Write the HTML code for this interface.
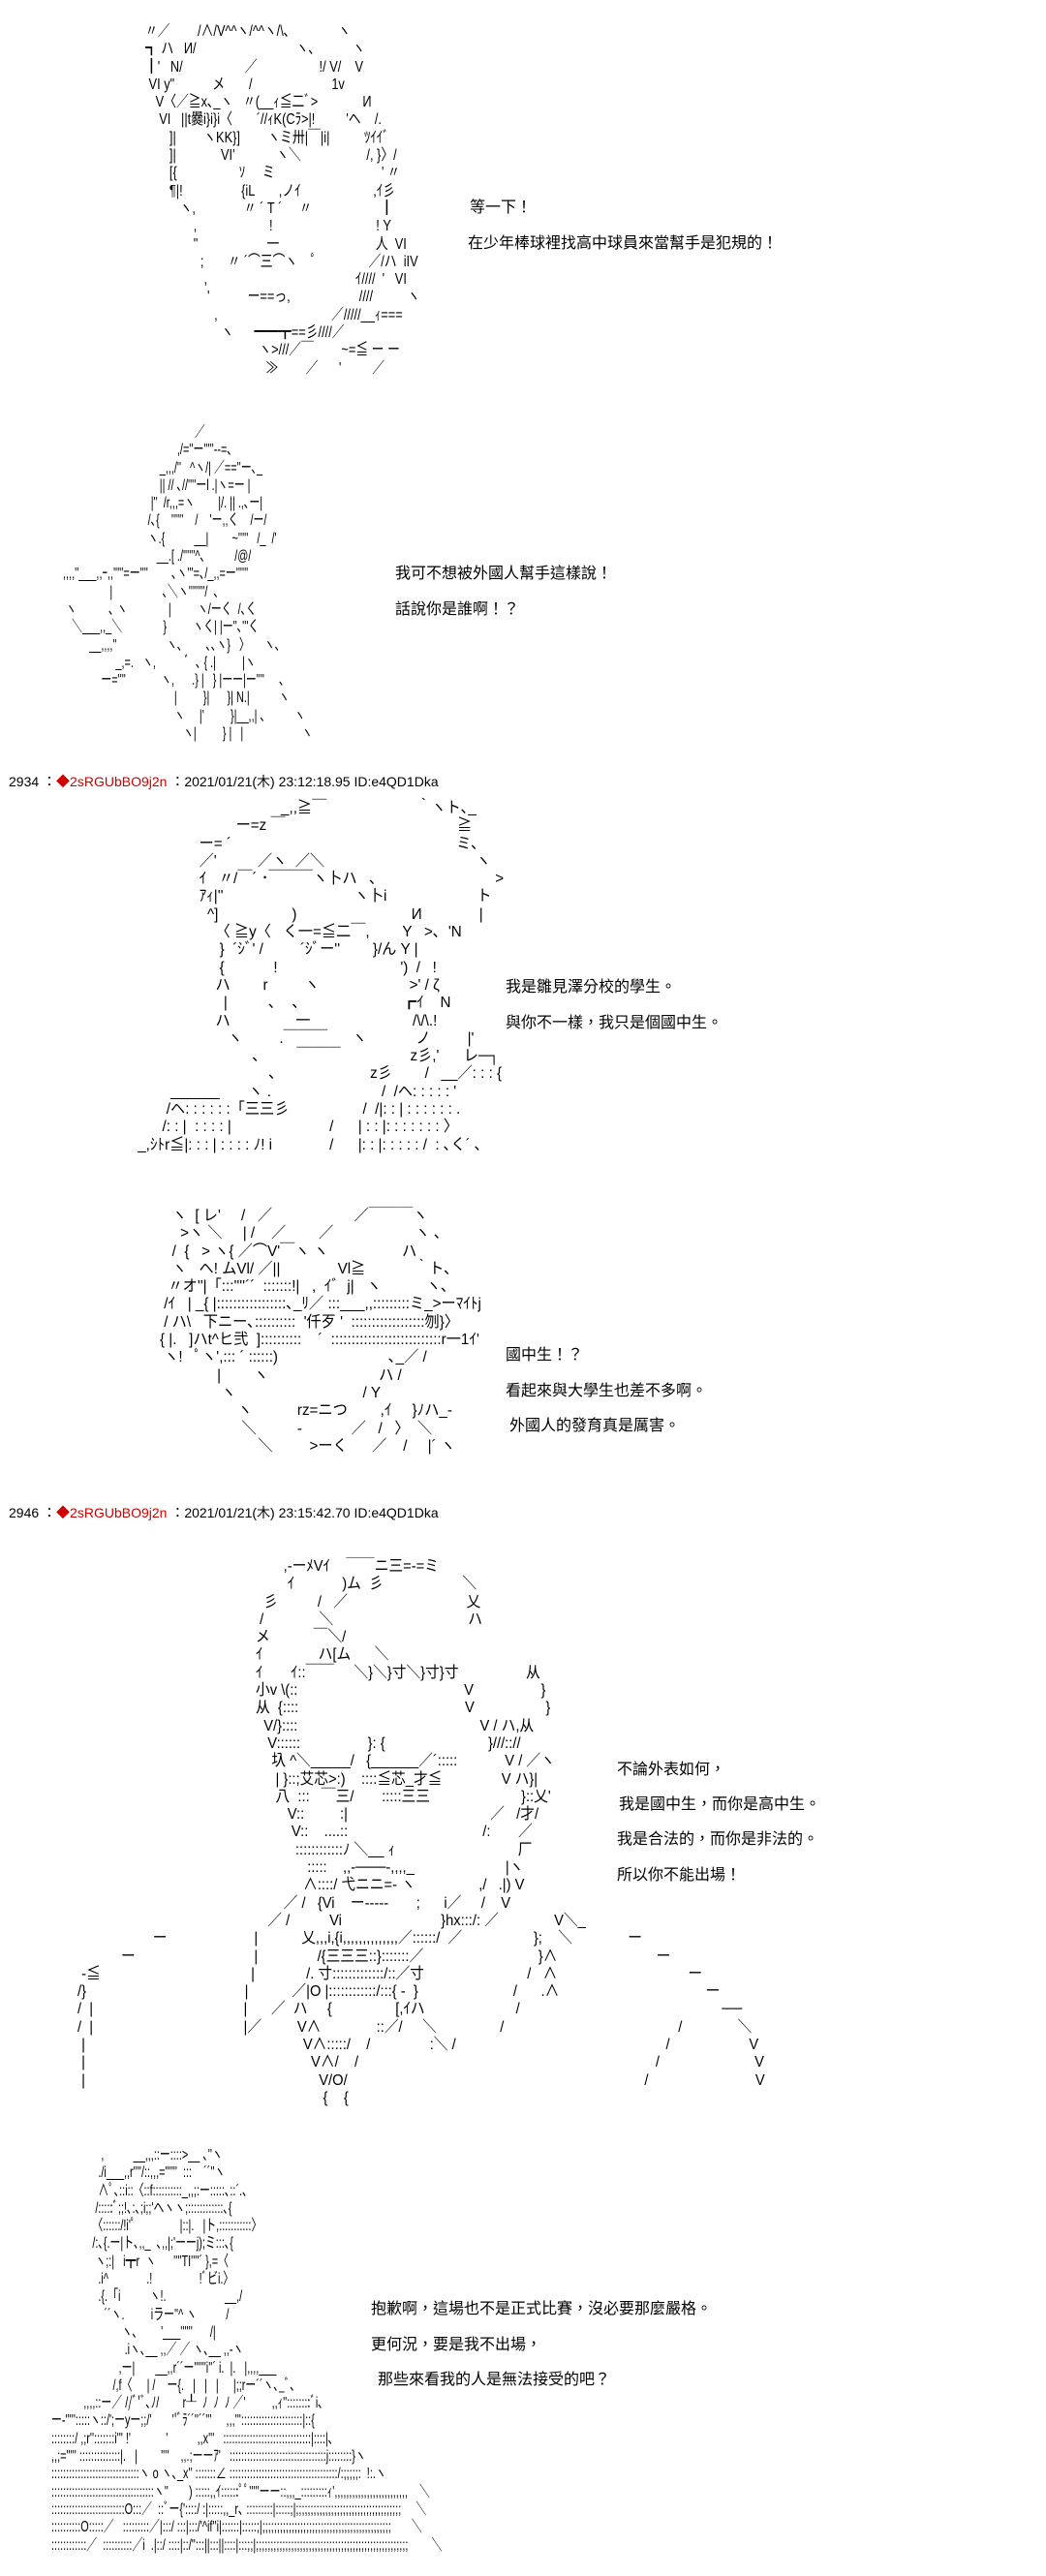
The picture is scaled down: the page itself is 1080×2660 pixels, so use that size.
<!DOCTYPE html>
<html><head><meta charset="utf-8">
<style>
html,body{margin:0;padding:0;background:#fff;}
body{width:1080px;height:2660px;position:relative;overflow:hidden;color:#000;
font-family:"Liberation Sans","Noto Sans CJK TC","Noto Sans CJK JP",sans-serif;}
.aa{position:absolute;margin:0;white-space:pre;font-size:16px;line-height:18.3px;transform-origin:0 0;
font-family:"Liberation Sans","Noto Sans CJK JP",sans-serif;}
.t{position:absolute;white-space:pre;font-size:16px;line-height:18px;
font-family:"Liberation Sans","Noto Sans CJK TC",sans-serif;}
.h{position:absolute;left:9px;white-space:pre;font-size:14px;line-height:16px;}
.r{color:#d00000;}
</style></head><body>

<pre class="aa" style="left:150px;top:24px;transform:scaleX(0.8);">〃／        /∧/V^^ヽ/^^ヽ/\､              ヽ
┓ ハ   И/                             ヽ､           ヽ
┃'   N/                  ／                  !/ V/    V
 VI y"           メ       /                       1v
   V〈／≧x､_ヽ   〃(__ｨ≦二ﾞ>             И
    VI   ||t爨i}i}i〈       ´//ｨK(Cﾗ>|!         'ヘ    /.
       ]|        ヽKK}]        ヽミ卅|￣|i|          ﾂｲｲﾞ
       ]|             VI'            ヽ＼                   /, }〉/
       [{                  ｿ     ミ                               ' 〃
       ¶|!                 {iL       ,ノｲ                     ,ｲ彡
          ヽ,              〃 ´ T ´     〃                    ┃
              ,                     !                              ! Y
              "                    一                            人  VI
                ;       〃 ´⌒三⌒ヽ    ﾟ               ／/ハ  iIV
                 ,                                           ｲ////  '   VI
                  '           ー==っ,                    ////          ヽ
                    ,                                 ／/////__ｨ===
                      ヽ      ━━┳==彡////／
                                 ヽ>///／￣        ~=≦ ー ー
                                   ≫        ／      '         ／</pre>

<div class="t" style="left:485px;top:206px;">等一下！</div>
<div class="t" style="left:483px;top:243px;">在少年棒球裡找高中球員來當幫手是犯規的！</div>

<pre class="aa" style="left:62px;top:438px;transform:scaleX(0.68);">                                              ／
                                        ,/=''ー'''''--=､
                                  _,,,/''   ^ヽ/| ／==''ー､_
                                  || // ､//''''ーl .|ヽ=ー |
                               |''  /r,,,=ヽ        |/. || .,､ー|
                              /､{    ''''''    /    'ー,,く    /ー/
                              ヽ.{          __|        ~'''''   /_  /'
                                 __.[ ./''''''^､          /@/
 ,,,,''___,,ｰ,,'''''=ー''''        ､ヽ'''=､/_,,=ー''''''
                 |                 ､＼ヽ''''''''/  ､
  ヽ           ､ ヽ              |         ヽ/ーく  /､く
    ＼___,,_＼              }         ヽく| |ー''､'''く
          __,,,,''                 ヽ､        ､､ヽ}   〉     ヽ､
                   _,=.   ヽ,          ﾞ  ､ { .|         |ヽ
              ー=''''            ヽ,      .} |   } |ーー|ー''''     ､
                                       |         }|      }| N.|          ヽ
                                       ヽ     |'         }|__,,| ､          ヽ
                                          ヽ|         } |   |                    ヽ</pre>

<div class="t" style="left:408px;top:584px;">我可不想被外國人幫手這樣說！</div>
<div class="t" style="left:408px;top:621px;">話說你是誰啊！？</div>

<div class="h" style="top:799px;">2934 ：<span class="r">◆2sRGUbBO9j2n</span> ：2021/01/21(木) 23:12:18.95 ID:e4QD1Dka</div>

<pre class="aa" style="left:138px;top:826px;transform:scaleX(0.95);">                                    _,,≧￣                      ｀ヽト､_
                         ー=z ￣                                          ≧
                ー= ´                                                       ミ､
                ／'          ／ヽ  ／＼                                     ヽ
                ｲ   〃/￣´ ･￣￣￣ヽ卜ハ   ､                             >
                ｱｨ|''                                ヽ卜i                      ト
                  ^]                  )                            И              |
                    〈 ≧y〈   く一=≦二￣,        Y   >､  'N
                     }  ´ｼﾞ' /         ´ｼﾞー''        }/ん Y |
                     {            !                              ')  /   !
                    ハ        r         ヽ                      >' / ζ
                      |          ､    ､                         ┏ｲ    N
                    ハ                一                         /\/\.!
                       ヽ         .￣￣￣      ヽ            ノ         |'
                             ､         ￣￣￣                 z彡,'      レ─┐
                                 ､                       z彡        /   __／: : : {
         ______       ヽ .                           /  /ヘ: : : : : '
        /ヘ: : : : : :「三三彡                  /  /|: : | : : : : : : .
       /: : |  : : : : |                        /      | : : |: : : : : : : 〉
 _,ｼﾄr≦|: : : | : : : : ﾉ! i              /      |: : |: : : : : /  : ､く´ ､</pre>

<div class="t" style="left:522px;top:1011px;">我是雛見澤分校的學生。</div>
<div class="t" style="left:522px;top:1048px;">與你不一樣，我只是個國中生。</div>

<pre class="aa" style="left:165px;top:1247px;transform:scaleX(0.95);">   ヽ  [ レ'     /   ／                    ／￣￣￣ヽ
     >ヽ ＼     | /    ／        ／                    ヽ ､
   /  {   > ヽ{ ／⌒V'￣ヽ ヽ                  ハ
   ヽ   ヘ! ムVl/ ／||              Vl≧            ｀ト､
  〃オ''|「:::''''´´  :::::::!|   ,  ｲﾞ  j|   ヽ           ヽ､
 /ｲ   | _{ |:::::::::::::::::､_ﾘ／ :::___,,:::::::::ミ_>ーﾏｲﾄj
 / ハ\   下ニー､::::::::::  '仟歹 '  ::::::::::::::::::刎}〉
{ |.   ]ハt^ヒ弐  ]::::::::::    ´  :::::::::::::::::::::::::::r一1ｲ'
 ヽ!   ﾟヽ',::: ´ ::::::)                           ､_／ /
              |        ヽ                           ハ /
               ヽ                               / Y
                   ヽ           rz=ニつ        ,ｲ     }ﾉハ_-
                    ＼          -            ／   /   〉  ＼
                        ＼         >ーく      ／    /     |´ ヽ</pre>

<div class="t" style="left:522px;top:1391px;">國中生！？</div>
<div class="t" style="left:522px;top:1428px;">看起來與大學生也差不多啊。</div>
<div class="t" style="left:526px;top:1464px;">外國人的發育真是厲害。</div>

<div class="h" style="top:1554px;">2946 ：<span class="r">◆2sRGUbBO9j2n</span> ：2021/01/21(木) 23:15:42.70 ID:e4QD1Dka</div>

<pre class="aa" style="left:80px;top:1609px;transform:scaleX(0.92);">                                                    ,-ーﾒVｲ    ￣￣ニ三=-=ミ
                                                     ｲ            )ム  彡                    ＼
                                               彡          /   ／                              乂
                                              /              ＼                                  ハ
                                             メ           ￣＼/
                                             ｲ              ハ[ム      ＼
                                             ｲ       ｲ::￣￣     ＼}＼}寸＼}寸}寸                 从
                                             小v \(::                                          V                 }
                                             从  {::::                                          V                  }
                                               V/}::::                                              V / ハ,从
                                                V::::::                 }: {                          }///:://
                                                 圦 ^＼_____/   {______／´:::::            V / ／ヽ
                                                  | }::;艾芯>:)    ::::≦芯_才≦               V ハ}|
                                                  八  :::   ￣三/       :::::三三                       }::乂'
                                                     V::         :|                                    ／   /才/
                                                      V::    ....::                                  /:       ／
                                                       ::::::::::::ﾉ ＼__ ｨ                               厂
                                                          :::::    ,,-───-,,,,_                       |ヽ
                                                         ∧::::/ 弋ニニ=- ヽ                ,/   .|) V
                                                    ／ /   {Vi    ー-----       ;      i／     /    V
                                                ／ /          Vi                         }hx:::/: ／              V＼_
                   ー                      |           乂,,,i,{i,,,,,,,,,,,,,,／::::::/  ／                  };    ＼              ー
           ー                              |               /{三三三::}:::::::／                             }∧                         ー
 -≦                                      |             /. 寸:::::::::::::/::／寸                          /   ∧                                 ー
/}                                        |           ／|O |::::::::::::/:::{ -  }                        /      .∧                                     ー
/  |                                      |      ／  ハ     {                [,ｲハ                       /                                                   ──
/  |                                      |／         V∧              ::／/     ＼                /                                            /              ＼
 |                                                       V∧:::::/    /               :＼ /                                                     /                    V
 |                                                         V∧/    /                                                                           /                        V
 |                                                           V/O/                                                                           /                           V
                                                              {    {</pre>

<div class="t" style="left:637px;top:1819px;">不論外表如何，</div>
<div class="t" style="left:639px;top:1855px;">我是國中生，而你是高中生。</div>
<div class="t" style="left:637px;top:1891px;">我是合法的，而你是非法的。</div>
<div class="t" style="left:637px;top:1928px;">所以你不能出場！</div>

<pre class="aa" style="left:50px;top:2217px;transform:scaleX(0.68);">                  ,          __,,,::ー::::>__ ､''ヽ
                 ./i___,,r''''/::,,,=''''''  :::    ´´''ヽ
                 ∧ﾟ､::i::〈::f::::::::::_,,;:ー:::::､::´.､
                /:::::ﾞ;;!､:､;i;;'ヘヽヽ;::::::::::::､{
               〈::::::/!i'ﾟ               |::|.   |ト,:::::::::::〉
               /:､{.ー|ト､,,_  ､,,|;'ーーj);ミ:::､{
                ヽ;:|   i┳r  ヽ      ''''TI''''´ },=〈
                 .i^             .!                !ﾞビi.〉
                 .{.「i          ヽ!.                    __,/
                   ´´ヽ.         iラー''^ ヽ          /
                         ヽ､        '___''''''      /|
                          .iヽ､__ ,,／ ／ ヽ､__ ,,-ヽ
                        ,ー|       __,,r´´ー''''''i''´ i.  |.   |,,,,___
                      /,f〈     | /    ー{.   |   |   |     |;;rー´´ヽ､_ﾞ､
            ,,,,::ー／ //ﾞ'ﾞ､ﾉ/        r┸  ﾉ  ﾉ  ﾉ ／'         ,,ｨ''::::::::ﾞi､
 ー-''''':::::ヽ::/';ーyー;;/'       ''ﾞﾗ´´''´´'''     ,,,''':::::::::::::::::::::|::{
 ::::::::/ ,;r'':::::::i''' !'            '          ,,x'''   ::::::::::::::::::::::::::::::|::::|､
 ,,;=''''' ::::::::::::::|.   |        ''''    ,,.;ーーｱ'   :::::::::::::::::::::::::::::::::j::::::::}ヽ
 ::::::::::::::::::::::::::::::ヽ o ヽ､_x'' :::::::∠ :::::::::::::::::::::::::::::::::::::/:;;;;;:  !:.ヽ
 :::::::::::::::::::::::::::::::::::ヽ''       ) :::::,,ｲ::::::ﾟﾟ'''''ーー::,,,_:::::::::ｨ',,,,,,,,,,,,,,,,,,,,,,,,,    ＼
 :::::::::::::::::::::::::O:::／  ::ﾞー{'::::/ :|:::::,,_r､ :::::::::|:::::;|;;;;;;;;;;;;;;;;;;;;;;;;;;;;;;;;;;;;     ＼
 ::::::::::O:::::／   :::::::::／|:::/ :::|:::/'^if''i|::::::|:::::;|;;;;;;;;;;;;;;;;;;;;;;;;;;;;;;;;;;;;;;;;;;;;       ＼
 ::::::::::::／  ::::::::::／i  .|::/ ::::|::/'':::||:::||::::|:::;;|;;;;;;;;;;;;;;;;;;;;;;;;;;;;;;;;;;;;;;;;;;;;;;;;;;;;        ＼</pre>

<div class="t" style="left:383px;top:2376px;">抱歉啊，這場也不是正式比賽，沒必要那麼嚴格。</div>
<div class="t" style="left:383px;top:2413px;">更何況，要是我不出場，</div>
<div class="t" style="left:390px;top:2449px;">那些來看我的人是無法接受的吧？</div>

</body></html>
